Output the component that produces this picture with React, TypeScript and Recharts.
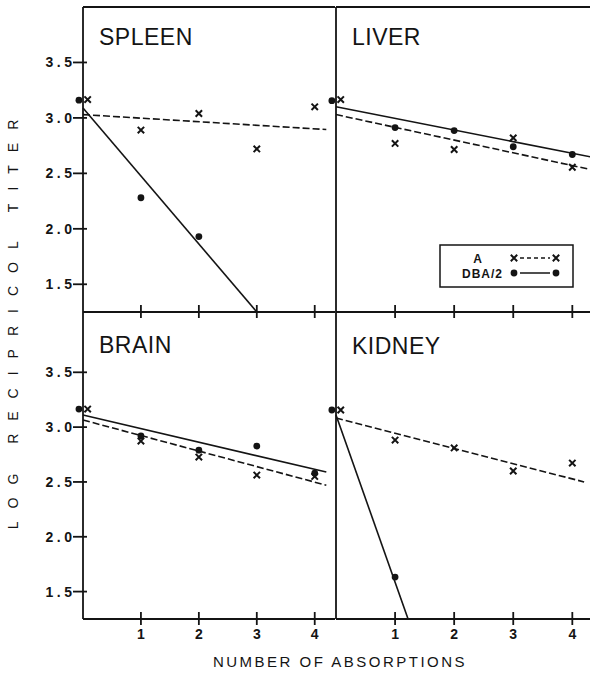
import React from 'react'
import {
  ComposedChart, Line, Scatter, XAxis, YAxis, ReferenceLine, ReferenceDot, Legend,
} from 'recharts'

const INK = '#141414'
const FONT = '"Liberation Sans", Arial, sans-serif'

const ABSORPTIONS = [0, 1, 2, 3, 4]
const X_TICKS = [1, 2, 3, 4]
const Y_TICKS = [1.5, 2.0, 2.5, 3.0, 3.5]
const X_DOMAIN: [number, number] = [0, 4.35]
const TOP_Y_DOMAIN: [number, number] = [1.25, 4.0]
const BOTTOM_Y_DOMAIN: [number, number] = [1.25, 4.05]

// points at 0 absorptions are drawn slightly apart so both strains show
const A_JITTER = 0.08
const DBA_JITTER = -0.07

// log reciprocal titer per absorption (0..4); DBA/2 spleen & kidney drop off the scale
const SPLEEN_A = [3.165, 2.89, 3.04, 2.72, 3.10]
const SPLEEN_DBA = [3.16, 2.28, 1.93]
const LIVER_A = [3.165, 2.77, 2.715, 2.82, 2.555]
const LIVER_DBA = [3.155, 2.913, 2.886, 2.74, 2.67]
const BRAIN_A = [3.165, 2.873, 2.727, 2.563, 2.55]
const BRAIN_DBA = [3.165, 2.92, 2.79, 2.827, 2.58]
const KIDNEY_A = [3.156, 2.882, 2.81, 2.60, 2.672]
const KIDNEY_DBA = [3.156, 1.632]

// fitted lines: [start, end] as [absorptions, titer]
const SPLEEN_A_FIT = [[0, 3.03], [4.2, 2.895]]
const SPLEEN_DBA_FIT = [[0, 3.09], [3.0, 1.25]]
const LIVER_A_FIT = [[0, 3.03], [4.35, 2.53]]
const LIVER_DBA_FIT = [[0, 3.10], [4.35, 2.645]]
const BRAIN_A_FIT = [[0, 3.065], [4.2, 2.47]]
const BRAIN_DBA_FIT = [[0, 3.11], [4.2, 2.59]]
const KIDNEY_A_FIT = [[0, 3.083], [4.2, 2.50]]
const KIDNEY_DBA_FIT = [[0, 3.11], [1.22, 1.25]]

const LEGEND_LABELS = ['A', 'DBA/2']

function Cross({ cx, cy }: any) {
  const s = 3.2
  return (
    <path
      d={`M${cx - s},${cy - s}L${cx + s},${cy + s}M${cx - s},${cy + s}L${cx + s},${cy - s}`}
      stroke={INK}
      strokeWidth={2}
      fill="none"
    />
  )
}

function Dot({ cx, cy }: any) {
  return <circle cx={cx} cy={cy} r={3.4} fill={INK} />
}

function YTick({ x, y, payload }: any) {
  return (
    <g>
      <line x1={x - 10} x2={x + 4} y1={y} y2={y} stroke={INK} strokeWidth={1.8} />
      <text
        x={x - 7.5}
        y={y + 5}
        textAnchor="end"
        fontFamily={FONT}
        fontWeight="bold"
        fontSize={14}
        letterSpacing={3.5}
        fill={INK}
      >
        {Number(payload.value).toFixed(1)}
      </text>
    </g>
  )
}

function XTick({ x, y, payload, showLabel }: any) {
  return (
    <g>
      <line x1={x} x2={x} y1={y - 7} y2={y + 6} stroke={INK} strokeWidth={1.8} />
      {showLabel && (
        <text
          x={x}
          y={y + 19.5}
          textAnchor="middle"
          fontFamily={FONT}
          fontWeight="bold"
          fontSize={14}
          fill={INK}
        >
          {payload.value}
        </text>
      )}
    </g>
  )
}

function LegendBox() {
  return (
    <svg width={136} height={44} style={{ display: 'block' }}>
      <rect x={1} y={1} width={133} height={42} fill="#fff" stroke={INK} strokeWidth={1.5} />
      {LEGEND_LABELS.map((label, i) => {
        const cy = 14 + i * 15
        return (
          <g key={label}>
            <text
              x={i === 0 ? 44 : 64}
              y={cy + 5}
              textAnchor="end"
              fontFamily={FONT}
              fontWeight="bold"
              fontSize={12}
              letterSpacing={1}
              fill={INK}
            >
              {label}
            </text>
            {i === 0 ? <Cross cx={75} cy={cy} /> : <Dot cx={75} cy={cy} />}
            <line
              x1={81}
              x2={111}
              y1={cy}
              y2={cy}
              stroke={INK}
              strokeWidth={1.5}
              strokeDasharray={i === 0 ? '4 3' : undefined}
            />
            {i === 0 ? <Cross cx={117} cy={cy} /> : <Dot cx={117} cy={cy} />}
          </g>
        )
      })}
    </svg>
  )
}

const toPoints = (vals: number[], jitter: number) =>
  vals.map((v, i) => ({ x: ABSORPTIONS[i] === 0 ? ABSORPTIONS[i] + jitter : ABSORPTIONS[i], y: v }))

const toFit = (fit: number[][]) => fit.map(([x, y]) => ({ x, y }))

interface PanelProps {
  a: number[]
  dba: number[]
  aFit: number[][]
  dbaFit: number[][]
  col: 'left' | 'right'
  row: 'top' | 'bottom'
  legend?: boolean
}

function Panel({ a, dba, aFit, dbaFit, col, row, legend }: PanelProps) {
  const isTop = row === 'top'
  const isLeft = col === 'left'
  const yDomain = isTop ? TOP_Y_DOMAIN : BOTTOM_Y_DOMAIN
  const left = isLeft ? 0 : 300
  const top = isTop ? 0 : 312
  const width = isLeft ? 335 : 293
  const height = isTop ? 322 : 337
  const dbaPts = toPoints(dba, DBA_JITTER)
  const zeroDot = dbaPts.filter(p => p.x < 0)
  const restDots = dbaPts.filter(p => p.x >= 0)

  return (
    <div style={{ position: 'absolute', left, top }}>
      <ComposedChart
        width={width}
        height={height}
        margin={{ top: isTop ? 7 : 0, right: 0, bottom: 0, left: 0 }}
      >
        <XAxis
          dataKey="x"
          type="number"
          domain={X_DOMAIN}
          ticks={X_TICKS}
          interval={0}
          height={isTop ? 10 : 30}
          tickSize={0}
          tickMargin={0}
          tickLine={false}
          axisLine={{ stroke: INK, strokeWidth: 1.8 }}
          tick={(p: any) => <XTick {...p} showLabel={!isTop} />}
        />
        <YAxis
          dataKey="y"
          type="number"
          domain={yDomain}
          ticks={Y_TICKS}
          interval={0}
          width={isLeft ? 83 : 36}
          tickSize={0}
          tickMargin={0}
          tickLine={false}
          axisLine={{ stroke: INK, strokeWidth: 1.8 }}
          tick={isLeft ? (p: any) => <YTick {...p} /> : false}
        />
        {isTop && <ReferenceLine y={yDomain[1]} stroke={INK} strokeWidth={1.8} />}
        <Line
          data={toFit(aFit)}
          dataKey="y"
          stroke={INK}
          strokeWidth={1.6}
          strokeDasharray="7 3"
          dot={false}
          activeDot={false}
          isAnimationActive={false}
        />
        <Line
          data={toFit(dbaFit)}
          dataKey="y"
          stroke={INK}
          strokeWidth={1.6}
          dot={false}
          activeDot={false}
          isAnimationActive={false}
        />
        <Scatter
          data={toPoints(a, A_JITTER)}
          dataKey="y"
          shape={(p: any) => <Cross cx={p.cx} cy={p.cy} />}
          isAnimationActive={false}
        />
        <Scatter
          data={restDots}
          dataKey="y"
          shape={(p: any) => <Dot cx={p.cx} cy={p.cy} />}
          isAnimationActive={false}
        />
        {zeroDot.map((p, i) => (
          <ReferenceDot
            key={i}
            x={p.x}
            y={p.y}
            ifOverflow="visible"
            shape={(s: any) => <Dot cx={s.cx} cy={s.cy} />}
          />
        ))}
        {legend && (
          <Legend
            layout="vertical"
            align="center"
            verticalAlign="middle"
            wrapperStyle={{ left: 139, top: 244, width: 136, height: 44 }}
            content={() => <LegendBox />}
          />
        )}
      </ComposedChart>
    </div>
  )
}

const TITLES = [
  { text: 'SPLEEN', x: 99, y: 45 },
  { text: 'LIVER', x: 352, y: 45 },
  { text: 'BRAIN', x: 99, y: 353 },
  { text: 'KIDNEY', x: 352, y: 354 },
]

export default function App() {
  return (
    <div
      style={{
        position: 'absolute',
        left: 0,
        top: 0,
        width: 590,
        height: 677,
        overflow: 'hidden',
        background: '#fff',
      }}
    >
      <Panel a={SPLEEN_A} dba={SPLEEN_DBA} aFit={SPLEEN_A_FIT} dbaFit={SPLEEN_DBA_FIT} col="left" row="top" />
      <Panel a={LIVER_A} dba={LIVER_DBA} aFit={LIVER_A_FIT} dbaFit={LIVER_DBA_FIT} col="right" row="top" legend />
      <Panel a={BRAIN_A} dba={BRAIN_DBA} aFit={BRAIN_A_FIT} dbaFit={BRAIN_DBA_FIT} col="left" row="bottom" />
      <Panel a={KIDNEY_A} dba={KIDNEY_DBA} aFit={KIDNEY_A_FIT} dbaFit={KIDNEY_DBA_FIT} col="right" row="bottom" />
      <svg
        width={590}
        height={677}
        style={{ position: 'absolute', left: 0, top: 0, pointerEvents: 'none' }}
      >
        {TITLES.map(t => (
          <text
            key={t.text}
            x={t.x}
            y={t.y}
            fontFamily={FONT}
            fontSize={23}
            letterSpacing={0.5}
            fill={INK}
          >
            {t.text}
          </text>
        ))}
        <text
          transform="translate(18, 318) rotate(-90)"
          textAnchor="middle"
          fontFamily={FONT}
          fontSize={14}
          letterSpacing={13}
          fill={INK}
        >
          LOG RECIPRICOL TITER
        </text>
        <text
          x={340}
          y={667}
          textAnchor="middle"
          fontFamily={FONT}
          fontSize={15}
          letterSpacing={2.5}
          fill={INK}
        >
          NUMBER OF ABSORPTIONS
        </text>
      </svg>
    </div>
  )
}
